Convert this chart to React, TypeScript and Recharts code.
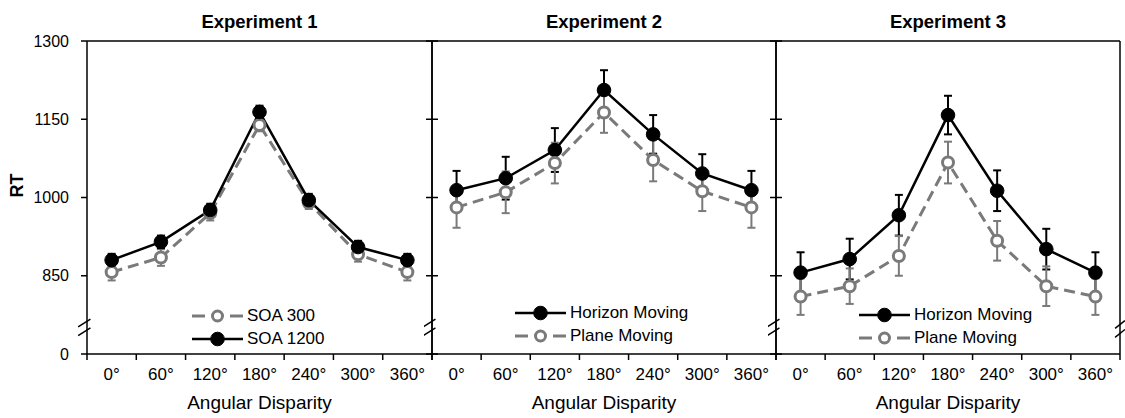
import React from 'react';
import { LineChart, Line, XAxis, YAxis, ErrorBar, ReferenceLine, Legend } from 'recharts';

const angles = ['0°', '60°', '120°', '180°', '240°', '300°', '360°'];
const positions = [0, 1, 2, 3, 4, 5, 6];
const boundaries = [-0.5, 0.5, 1.5, 2.5, 3.5, 4.5, 5.5, 6.5];
const rtTicks = [700, 850, 1000, 1150, 1300];
// axis break: the 700 tick is shown as "0"
const breakMarks = [
  [735, 750],
  [752, 767],
];

const exp1Soa300 = [857, 885, 970, 1139, 990, 891, 857];
const exp1Soa300Err = [16, 16, 14, 12, 12, 14, 16];
const exp1Soa1200 = [880, 915, 976, 1164, 995, 905, 880];
const exp1Soa1200Err = [12, 12, 12, 12, 12, 12, 12];

const exp2Horizon = [1014, 1037, 1091, 1206, 1121, 1046, 1014];
const exp2HorizonErr = [37, 41, 42, 38, 37, 37, 37];
const exp2Plane = [981, 1010, 1066, 1163, 1072, 1012, 981];
const exp2PlaneErr = [39, 40, 39, 39, 41, 38, 39];

const exp3Horizon = [856, 882, 966, 1158, 1013, 901, 856];
const exp3HorizonErr = [39, 39, 39, 37, 39, 39, 39];
const exp3Plane = [810, 830, 888, 1067, 917, 830, 810];
const exp3PlaneErr = [35, 34, 38, 40, 38, 38, 35];

const FONT = '"Liberation Sans", Arial, sans-serif';
const GRAY = '#7a7a7a';

type Style = {
  stroke: string;
  width: number;
  dash?: string;
  r: number;
  fill: string;
  dotStroke: number;
};

const solidBlack: Style = { stroke: '#000', width: 2.5, r: 6.8, fill: '#000', dotStroke: 1 };
const dashedGray: Style = { stroke: GRAY, width: 3, dash: '11 6', r: 5.5, fill: '#fff', dotStroke: 3 };

type Series = { name: string; values: number[]; errors: number[]; style: Style };

const makeRows = (series: Series[]) =>
  positions.map((p, i) => {
    const row: Record<string, number> = { pos: p };
    series.forEach((s, k) => {
      row['v' + k] = s.values[i];
      row['e' + k] = s.errors[i];
    });
    return row;
  });

const LegendBox = ({ series }: { series: Series[] }) => (
  <div style={{ fontFamily: FONT, fontSize: 17, color: '#000' }}>
    {series.map((s) => (
      <div key={s.name} style={{ display: 'flex', alignItems: 'center', height: 23 }}>
        <svg width={52} height={20} style={{ display: 'block' }}>
          {s.style.dash ? (
            <>
              <line x1={0} y1={10} x2={13} y2={10} stroke={s.style.stroke} strokeWidth={s.style.width} />
              <line x1={38} y1={10} x2={51} y2={10} stroke={s.style.stroke} strokeWidth={s.style.width} />
            </>
          ) : (
            <line x1={0} y1={10} x2={51} y2={10} stroke={s.style.stroke} strokeWidth={s.style.width} />
          )}
          <circle
            cx={25.5}
            cy={10}
            r={s.style.dash ? 5 : 6.8}
            fill={s.style.fill}
            stroke={s.style.stroke}
            strokeWidth={s.style.dotStroke}
          />
        </svg>
        <span style={{ marginLeft: 3, lineHeight: '20px' }}>{s.name}</span>
      </div>
    ))}
  </div>
);

type PanelProps = {
  title: string;
  series: Series[];
  left: number;
  width: number;
  margin: { top: number; right: number; bottom: number; left: number };
  first?: boolean;
  last?: boolean;
  legendLeft: number;
  legendTop: number;
};

const tickStyle = { fontSize: 17, fill: '#000', fontFamily: FONT };
const hiddenTick = { fontSize: 0, fill: 'none' };
const lineStyle = { stroke: '#000', strokeWidth: 1.5 };

const Panel = ({ title, series, left, width, margin, first, last, legendLeft, legendTop }: PanelProps) => {
  const rows = makeRows(series);
  const slashes = breakMarks.map(([lo, hi]) => ({ x0: -0.5 - 0.18, x1: -0.5 + 0.07, lo, hi }));
  if (last) breakMarks.forEach(([lo, hi]) => slashes.push({ x0: 6.5 - 0.1, x1: 6.5 + 0.1, lo: lo - 3, hi: hi - 3 }));
  return (
    <div style={{ position: 'absolute', left, top: 0 }}>
      <LineChart width={width} height={418} data={rows} margin={margin}>
        <XAxis
          xAxisId="top"
          orientation="top"
          dataKey="pos"
          type="number"
          domain={[-0.5, 6.5]}
          ticks={boundaries}
          allowDataOverflow
          height={1}
          tick={false}
          tickLine={false}
          axisLine={lineStyle}
          label={{
            value: title,
            position: 'top',
            offset: 12,
            style: { fontSize: 18.5, fontWeight: 'bold', fill: '#000', fontFamily: FONT },
          }}
        />
        <XAxis
          xAxisId="grid"
          dataKey="pos"
          type="number"
          domain={[-0.5, 6.5]}
          ticks={boundaries}
          allowDataOverflow
          tickFormatter={() => ''}
          height={6}
          tickSize={6}
          axisLine={lineStyle}
          tickLine={lineStyle}
          interval={0}
        />
        <XAxis
          xAxisId="lab"
          dataKey="pos"
          type="number"
          domain={[-0.5, 6.5]}
          ticks={positions}
          allowDataOverflow
          tickFormatter={(v: number) => angles[v]}
          axisLine={false}
          tickLine={false}
          tick={tickStyle}
          tickMargin={2}
          interval={0}
          height={58}
          label={{
            value: 'Angular Disparity',
            position: 'insideBottom',
            offset: 9,
            style: { fontSize: 19, fill: '#000', fontFamily: FONT },
          }}
        />
        <YAxis
          yAxisId="l"
          type="number"
          domain={[700, 1300]}
          ticks={rtTicks}
          allowDataOverflow
          width={first ? 87 : 1}
          mirror={!first}
          tickSize={6}
          tickMargin={first ? 12 : 0}
          tick={first ? { fontSize: 16, fill: '#000', fontFamily: FONT } : hiddenTick}
          tickFormatter={(v: number) => (first ? (v === 700 ? '0' : String(v)) : '')}
          axisLine={lineStyle}
          tickLine={lineStyle}
          interval={0}
          label={
            first
              ? {
                  value: 'RT',
                  angle: -90,
                  position: 'insideLeft',
                  offset: 17,
                  style: { fontSize: 18, fontWeight: 'bold', fill: '#000', fontFamily: FONT },
                }
              : undefined
          }
        />
        <YAxis
          yAxisId="r"
          orientation="right"
          type="number"
          domain={[700, 1300]}
          ticks={rtTicks}
          allowDataOverflow
          width={1}
          mirror
          tickSize={6}
          tick={hiddenTick}
          tickFormatter={() => ''}
          axisLine={lineStyle}
          tickLine={last ? false : lineStyle}
          interval={0}
        />
        {slashes.map((s, k) => (
          <ReferenceLine
            key={'slash' + k}
            xAxisId="grid"
            yAxisId="l"
            ifOverflow="visible"
            stroke="#000"
            strokeWidth={1.5}
            segment={[
              { x: s.x0, y: s.lo },
              { x: s.x1, y: s.hi },
            ]}
          />
        ))}
        {series.map((s, k) => (
          <Line
            key={s.name}
            xAxisId="grid"
            yAxisId="l"
            dataKey={'v' + k}
            name={s.name}
            type="linear"
            stroke={s.style.stroke}
            strokeWidth={s.style.width}
            strokeDasharray={s.style.dash}
            dot={{
              r: s.style.r,
              fill: s.style.fill,
              stroke: s.style.stroke,
              strokeWidth: s.style.dotStroke,
              strokeDasharray: 'none',
            }}
            activeDot={false}
            isAnimationActive={false}
          >
            <ErrorBar
              dataKey={'e' + k}
              direction="y"
              width={4}
              stroke={s.style.stroke}
              strokeWidth={2}
              isAnimationActive={false}
            />
          </Line>
        ))}
        <Legend
          layout="vertical"
          align="center"
          verticalAlign="middle"
          content={() => <LegendBox series={series} />}
          wrapperStyle={{ left: legendLeft, top: legendTop, width: 200 }}
        />
      </LineChart>
    </div>
  );
};

const exp1Series: Series[] = [
  { name: 'SOA 300', values: exp1Soa300, errors: exp1Soa300Err, style: dashedGray },
  { name: 'SOA 1200', values: exp1Soa1200, errors: exp1Soa1200Err, style: solidBlack },
];
const exp2Series: Series[] = [
  { name: 'Horizon Moving', values: exp2Horizon, errors: exp2HorizonErr, style: solidBlack },
  { name: 'Plane Moving', values: exp2Plane, errors: exp2PlaneErr, style: dashedGray },
];
const exp3Series: Series[] = [
  { name: 'Horizon Moving', values: exp3Horizon, errors: exp3HorizonErr, style: solidBlack },
  { name: 'Plane Moving', values: exp3Plane, errors: exp3PlaneErr, style: dashedGray },
];

export default function App() {
  return (
    <div
      style={{
        position: 'absolute',
        left: 0,
        top: 0,
        width: 1125,
        height: 418,
        background: '#fff',
        overflow: 'hidden',
      }}
    >
      <Panel
        title="Experiment 1"
        series={exp1Series}
        left={0}
        width={440}
        margin={{ top: 40, right: 8, bottom: 0, left: 0 }}
        first
        legendLeft={192}
        legendTop={304}
      />
      <Panel
        title="Experiment 2"
        series={exp2Series}
        left={424}
        width={360}
        margin={{ top: 40, right: 8, bottom: 0, left: 8 }}
        legendLeft={91}
        legendTop={301}
      />
      <Panel
        title="Experiment 3"
        series={exp3Series}
        left={768}
        width={357}
        margin={{ top: 40, right: 5, bottom: 0, left: 8 }}
        last
        legendLeft={91}
        legendTop={303}
      />
    </div>
  );
}
